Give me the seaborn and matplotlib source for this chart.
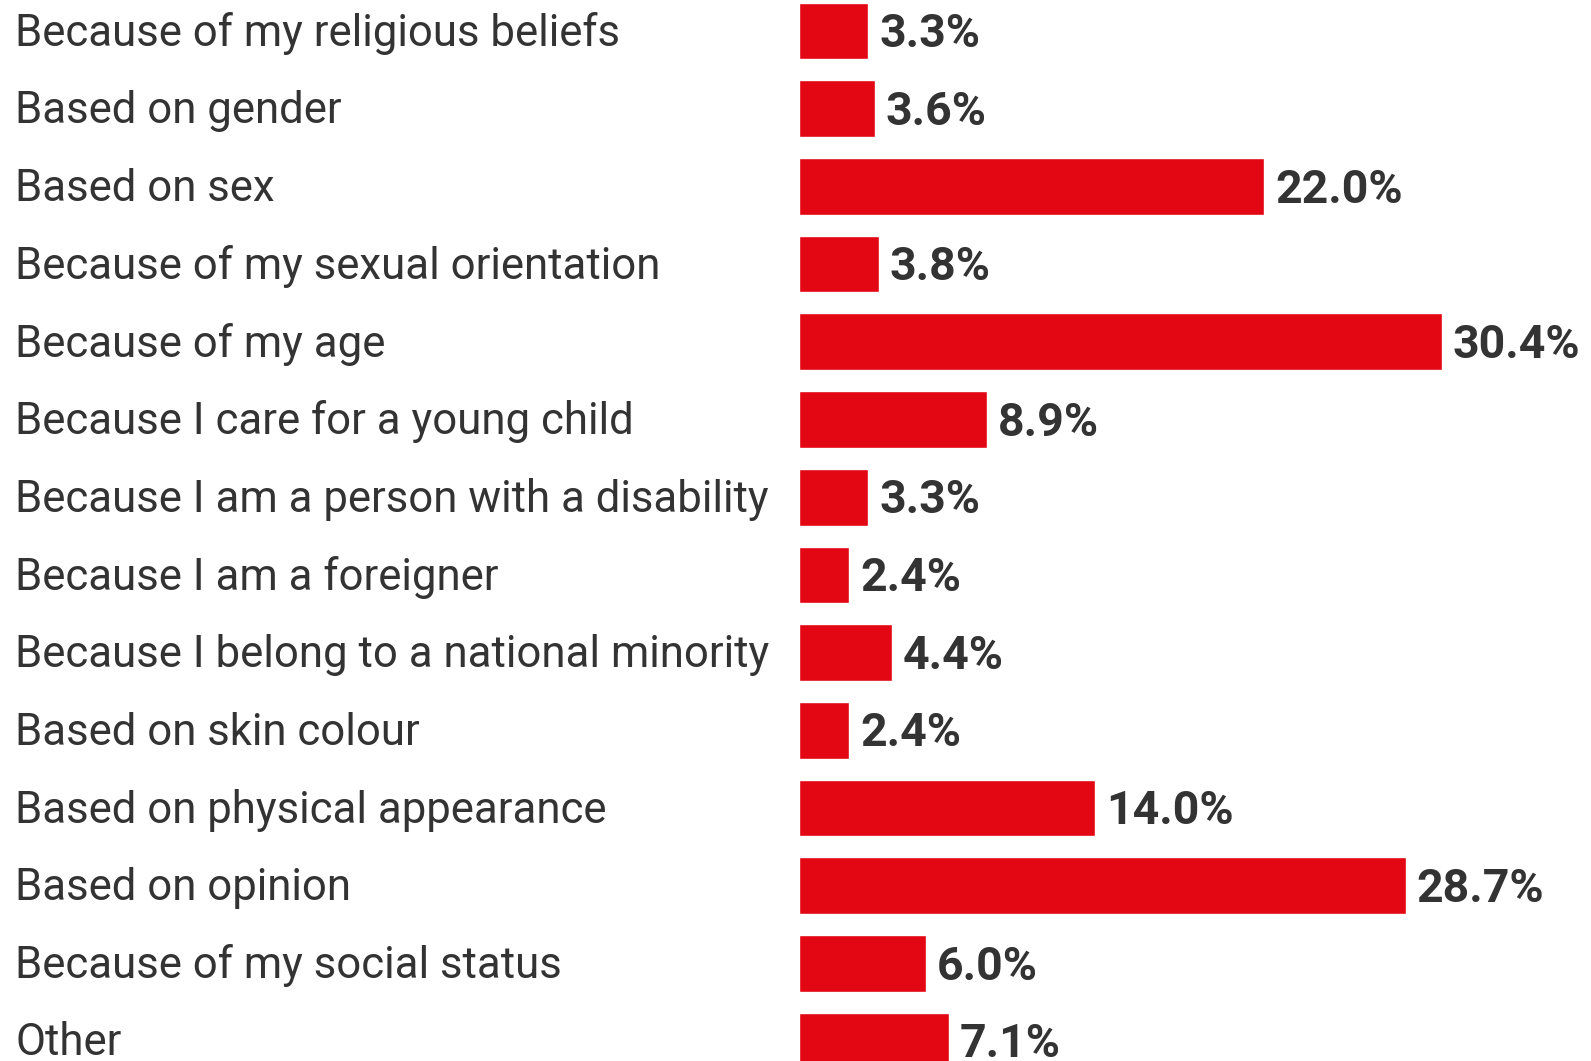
import pandas as pd
import numpy as np
import matplotlib
matplotlib.use("Agg")
import matplotlib.pyplot as plt
import matplotlib.transforms as mtransforms
import seaborn as sns

reasons = [
    "Because of my religious beliefs",
    "Based on gender",
    "Based on sex",
    "Because of my sexual orientation",
    "Because of my age",
    "Because I care for a young child",
    "Because I am a person with a disability",
    "Because I am a foreigner",
    "Because I belong to a national minority",
    "Based on skin colour",
    "Based on physical appearance",
    "Based on opinion",
    "Because of my social status",
    "Other",
]
shares = [3.3, 3.6, 22.0, 3.8, 30.4, 8.9, 3.3, 2.4, 4.4, 2.4, 14.0, 28.7, 6.0, 7.1]

sns.set_style("white")
plt.rcParams["font.family"] = ["Roboto", "DejaVu Sans"]

W, H = 1591, 1061
fig = plt.figure(figsize=(W / 100, H / 100), dpi=100)
left_px = 798.6
ax = fig.add_axes([left_px / W, 0, 1 - left_px / W, 1])

data = pd.DataFrame({"reason": reasons, "share": shares})
sns.barplot(data=data, x="share", y="reason", orient="h", color="#e30613",
            saturation=1, width=0.73, ax=ax)

px_per_pct = 643 / 30.4
ax.set_xlim(0, (W - left_px) / px_per_pct)
row = 77.7
top = 31
ax.set_ylim((H - top) / row, -top / row)
ax.axis("off")

trans = mtransforms.blended_transform_factory(fig.transFigure, ax.transData)
for i, (r, v) in enumerate(zip(reasons, shares)):
    ax.text(15.2 / W, i + 0.03, r, transform=trans, ha="left", va="center",
            fontsize=31.5, color="#333333")
    ax.text(v + 11 / px_per_pct, i + 0.04, f"{v:.1f}%", ha="left", va="center",
            fontsize=33.5, fontweight="bold", color="#333333")

fig.savefig("out.png", dpi=100)
